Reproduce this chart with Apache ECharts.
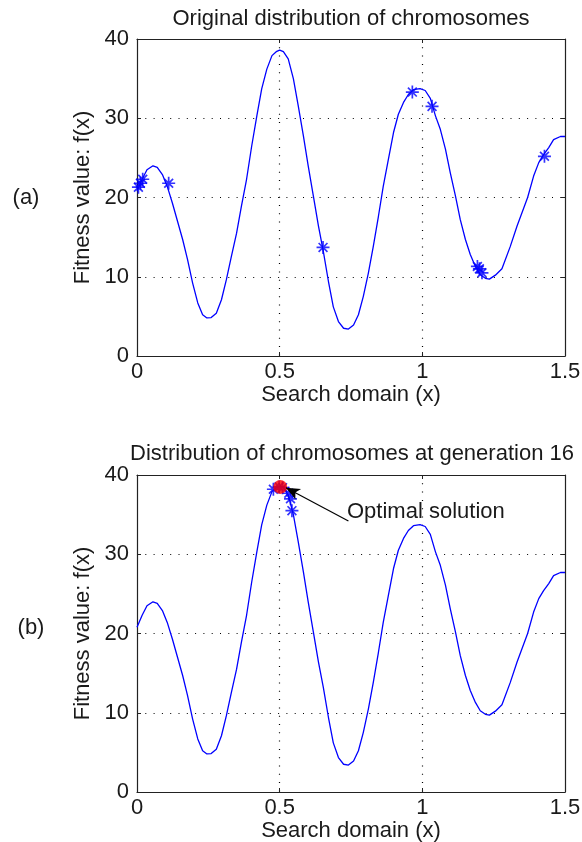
<!DOCTYPE html>
<html>
<head>
<meta charset="utf-8">
<script src="https://cdn.jsdelivr.net/npm/echarts@6/dist/echarts.min.js"></script>
<style>
  html, body { margin: 0; padding: 0; background: #fff; }
  #chart { width: 582px; height: 842px; }
</style>
</head>
<body>
<div id="chart"></div>
<script>
// Fitness landscape f(x) over the search domain, sampled along the curve
const curveX = [0, 0.018, 0.035, 0.056, 0.071, 0.089, 0.106, 0.124, 0.142, 0.160,
  0.177, 0.195, 0.213, 0.230, 0.245, 0.260, 0.278, 0.296, 0.313, 0.331,
  0.349, 0.366, 0.384, 0.402, 0.420, 0.437, 0.455, 0.473, 0.488, 0.500,
  0.513, 0.530, 0.548, 0.565, 0.583, 0.600, 0.618, 0.636, 0.653, 0.671,
  0.688, 0.706, 0.724, 0.741, 0.759, 0.776, 0.793, 0.811, 0.828, 0.846,
  0.863, 0.881, 0.899, 0.916, 0.934, 0.951, 0.969, 0.992, 1.010, 1.028,
  1.046, 1.063, 1.081, 1.098, 1.116, 1.133, 1.151, 1.168, 1.186, 1.203,
  1.221, 1.235, 1.256, 1.279, 1.308, 1.332, 1.369, 1.390, 1.408, 1.425,
  1.443, 1.460, 1.484, 1.500];
const curveY = [20.8, 22.3, 23.5, 24.0, 23.8, 22.9, 21.4, 19.3, 17.0, 14.7,
  12.2, 9.2, 6.7, 5.2, 4.8, 4.85, 5.4, 7.1, 9.6, 12.6,
  15.5, 18.9, 22.3, 26.5, 30.3, 33.7, 36.2, 37.9, 38.4, 38.6,
  38.4, 37.5, 35.0, 31.6, 27.8, 24.0, 20.2, 16.4, 13.2, 9.4,
  6.2, 4.35, 3.5, 3.4, 3.9, 5.2, 7.5, 10.5, 13.8, 17.6,
  21.4, 24.8, 28.2, 30.5, 32.0, 33.0, 33.6, 33.75, 33.5, 32.5,
  30.3, 28.6, 26.1, 23.1, 20.2, 17.2, 14.7, 12.8, 11.3, 10.25,
  9.8, 9.7, 10.2, 11.0, 13.8, 16.4, 20.0, 22.7, 24.4, 25.4,
  26.3, 27.3, 27.7, 27.7];

// Chromosomes of the initial population
const initialX = [0.005, 0.012, 0.020, 0.111, 0.652, 0.965, 1.034, 1.193, 1.200, 1.209, 1.428];
const initialY = [21.3, 21.8, 22.3, 21.8, 13.7, 33.3, 31.5, 11.3, 11.0, 10.5, 25.2];

// Chromosomes at generation 16
const gen16X = [0.478, 0.498, 0.510, 0.532, 0.538, 0.543];
const gen16Y = [38.2, 38.5, 38.4, 37.7, 37.0, 35.5];

// Best chromosome found
const optimalX = [0.502];
const optimalY = [38.5];

// Annotation: arrow from the note to the optimum, note anchor
const arrowFrom = [0.741, 34.2];
const arrowTo = [0.522, 38.4];
const noteAt = [0.736, 35.35];
const noteText = 'Optimal solution';

// Axis ticks
const xTicks = [0, 0.5, 1, 1.5];
const yTicks = [0, 10, 20, 30, 40];

const pairs = (xs, ys) => xs.map((x, i) => [x, ys[i]]);

const FONT = 'Liberation Sans, Arial, Helvetica, sans-serif';
const TXT = '#1a1a1a';
const BLUE = '#0000ff';
const STAR = 'path://M0,5L10,5M5,0L5,10M1.6,1.6L8.4,8.4M8.4,1.6L1.6,8.4';

const xStep = xTicks[1] - xTicks[0];
const yStep = yTicks[1] - yTicks[0];

function xAxes(gridIndex) {
  const common = {
    type: 'value', gridIndex,
    min: xTicks[0], max: xTicks[xTicks.length - 1], interval: xStep,
    axisLine: { show: true, onZero: false, lineStyle: { color: '#222', width: 1.2 } },
    axisTick: { show: true, inside: true, length: 4, lineStyle: { color: '#222' } }
  };
  return [
    Object.assign({}, common, {
      position: 'bottom',
      name: 'Search domain (x)', nameLocation: 'middle', nameGap: 22,
      nameTextStyle: { fontSize: 22, color: TXT, fontFamily: FONT },
      axisLabel: { fontSize: 22, color: TXT, fontFamily: FONT, margin: 5 },
      splitLine: { show: true, showMinLine: false, showMaxLine: false,
        lineStyle: { color: '#000', type: [1, 7.3], width: 1.2 } }
    }),
    Object.assign({}, common, {
      position: 'top', axisLabel: { show: false }, splitLine: { show: false }
    })
  ];
}

function yAxes(gridIndex) {
  const common = {
    type: 'value', gridIndex,
    min: yTicks[0], max: yTicks[yTicks.length - 1], interval: yStep,
    axisLine: { show: true, onZero: false, lineStyle: { color: '#222', width: 1.2 } },
    axisTick: { show: true, inside: true, length: 4, lineStyle: { color: '#222' } }
  };
  return [
    Object.assign({}, common, {
      position: 'left',
      name: 'Fitness value: f(x)', nameLocation: 'middle', nameGap: 31, nameRotate: 90,
      nameTextStyle: { fontSize: 22, color: TXT, fontFamily: FONT },
      axisLabel: { fontSize: 22, color: TXT, fontFamily: FONT, margin: 8 },
      splitLine: { show: true, showMinLine: false, showMaxLine: false,
        lineStyle: { color: '#000', type: [1, 7.3], width: 1.2 } }
    }),
    Object.assign({}, common, {
      position: 'right', axisLabel: { show: false }, splitLine: { show: false }
    })
  ];
}

const titleStyle = { fontSize: 22, fontWeight: 'normal', color: TXT, fontFamily: FONT };

const chart = echarts.init(document.getElementById('chart'), null, { renderer: 'canvas' });
chart.setOption({
  backgroundColor: '#fff',
  animation: false,
  title: [
    { text: 'Original distribution of chromosomes', left: 351, top: 8, textAlign: 'center', padding: 0, textStyle: titleStyle },
    { text: 'Distribution of chromosomes at generation 16', left: 352, top: 443, textAlign: 'center', padding: 0, textStyle: titleStyle },
    { text: '(a)', left: 26, top: 187, textAlign: 'center', padding: 0, textStyle: titleStyle },
    { text: '(b)', left: 31, top: 617, textAlign: 'center', padding: 0, textStyle: titleStyle }
  ],
  grid: [
    { left: 137, top: 39, width: 428, height: 317, outerBoundsMode: 'none' },
    { left: 137, top: 475, width: 428, height: 317, outerBoundsMode: 'none' }
  ],
  xAxis: xAxes(0).concat(xAxes(1)),
  yAxis: yAxes(0).concat(yAxes(1)),
  series: [
    {
      type: 'line', xAxisIndex: 0, yAxisIndex: 0,
      data: pairs(curveX, curveY), showSymbol: false, symbol: 'none',
      lineStyle: { color: BLUE, width: 1.3 }, z: 2
    },
    {
      type: 'scatter', xAxisIndex: 0, yAxisIndex: 0,
      data: pairs(initialX, initialY), symbol: STAR, symbolSize: 13,
      itemStyle: { color: 'none', borderColor: BLUE, borderWidth: 1.7 }, z: 3
    },
    {
      type: 'line', xAxisIndex: 2, yAxisIndex: 2,
      data: pairs(curveX, curveY), showSymbol: false, symbol: 'none',
      lineStyle: { color: BLUE, width: 1.3 }, z: 2
    },
    {
      type: 'scatter', xAxisIndex: 2, yAxisIndex: 2,
      data: pairs(gen16X, gen16Y), symbol: STAR, symbolSize: 13,
      itemStyle: { color: 'none', borderColor: BLUE, borderWidth: 1.7 }, z: 3
    },
    {
      type: 'scatter', xAxisIndex: 2, yAxisIndex: 2,
      data: pairs(optimalX, optimalY), symbol: 'circle', symbolSize: 14,
      itemStyle: { color: '#ff0000' }, z: 4,
      markLine: {
        silent: true, animation: false,
        symbol: ['none', 'arrow'], symbolSize: [9, 14],
        lineStyle: { color: '#000', width: 1.2, type: 'solid' },
        label: { show: false },
        data: [[{ coord: arrowFrom }, { coord: arrowTo }]]
      }
    },
    {
      type: 'scatter', xAxisIndex: 2, yAxisIndex: 2,
      data: [noteAt], symbol: 'rect', symbolSize: 0.01, z: 5,
      itemStyle: { color: TXT, opacity: 1 },
      label: {
        show: true, position: 'right', distance: 0,
        formatter: noteText, fontSize: 22, color: TXT, opacity: 1, fontFamily: FONT
      }
    }
  ]
});
</script>
</body>
</html>
